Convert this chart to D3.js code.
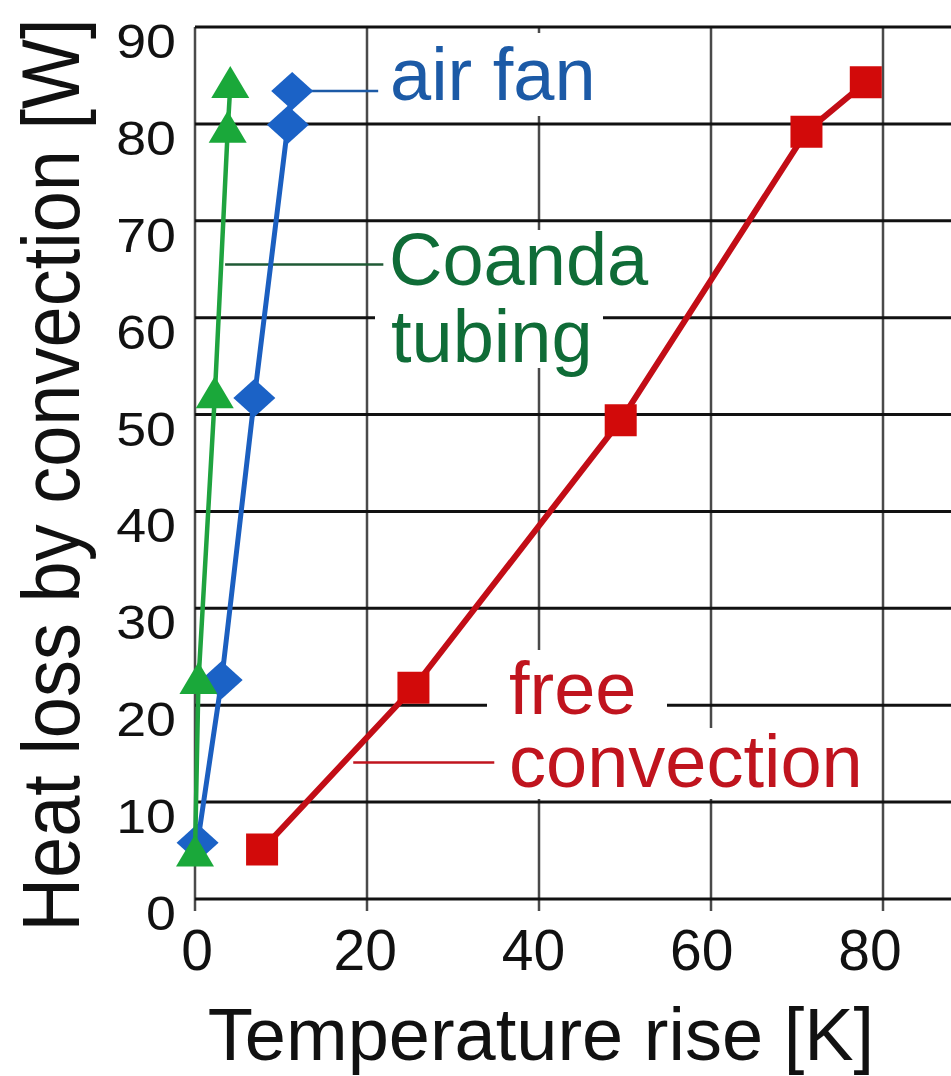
<!DOCTYPE html>
<html>
<head>
<meta charset="utf-8">
<script src="https://cdn.jsdelivr.net/npm/d3@7"></script>
<style>
  html, body { margin: 0; padding: 0; background: #fff; }
  svg { display: block; }
  text { font-family: "Liberation Sans", Arial, sans-serif; }
</style>
</head>
<body>
<svg id="chart" width="951" height="1076"></svg>
<script>
// ---- data ----
const xTicks = [0, 20, 40, 60, 80];
const yTicks = [0, 10, 20, 30, 40, 50, 60, 70, 80, 90];

const coandaX = [0, 0.4, 2.3, 3.8, 4.1];
const coandaY = [4.6, 22.4, 51.9, 79.3, 83.9];

const fanX = [0.3, 3.1, 6.9, 10.8, 11.3];
const fanY = [5.8, 22.6, 51.7, 79.9, 83.4];

const freeX = [7.8, 25.4, 49.5, 71.1, 78.0];
const freeY = [5.1, 21.8, 49.4, 79.2, 84.3];

const xTitle = "Temperature rise [K]";
const yTitle = "Heat loss by convection [W]";

// ---- layout ----
const W = 951, H = 1076;
const svg = d3.select("#chart");
const x = d3.scaleLinear().domain([0, 80]).range([195, 883]);
const y = d3.scaleLinear().domain([0, 90]).range([899, 27]);
const xLabel = d3.scaleLinear().domain([0, 80]).range([197, 870]);

const grid = svg.append("g");
// vertical gridlines (grey)
grid.selectAll("line.v").data(xTicks).join("line")
  .attr("x1", d => x(d)).attr("x2", d => x(d))
  .attr("y1", y(90)).attr("y2", y(0) + 12)
  .attr("stroke", "#4a4a4a").attr("stroke-width", 2.5);
// horizontal gridlines (black)
grid.selectAll("line.h").data(yTicks).join("line")
  .attr("x1", x(0)).attr("x2", W)
  .attr("y1", d => y(d)).attr("y2", d => y(d))
  .attr("stroke", "#111").attr("stroke-width", 3);

// white boxes behind annotation text
const boxes = [
  [380, 33, 600, 116],
  [375, 230, 655, 292],
  [375, 292, 603, 368],
  [487, 650, 667, 728],
  [497, 728, 876, 799]
];
svg.append("g").selectAll("rect").data(boxes).join("rect")
  .attr("x", d => d[0]).attr("y", d => d[1])
  .attr("width", d => d[2] - d[0]).attr("height", d => d[3] - d[1])
  .attr("fill", "#fff");

// leader lines
const leaders = [
  {x1: 12.2, x2: 21.3, y: 83.4, c: "#1c5aa6", w: 2.5},
  {x1: 3.5, x2: 21.9, y: 65.5, c: "#1f5a35", w: 2.5},
  {x1: 18.4, x2: 34.8, y: 14.1, c: "#c0141e", w: 2.5}
];
svg.append("g").selectAll("line").data(leaders).join("line")
  .attr("x1", d => x(d.x1)).attr("x2", d => x(d.x2))
  .attr("y1", d => y(d.y)).attr("y2", d => y(d.y))
  .attr("stroke", d => d.c).attr("stroke-width", d => d.w);

// annotation texts
const notes = [
  {t: "air fan", x: 390, y: 100, c: "#1c5aa6"},
  {t: "Coanda", x: 389, y: 285, c: "#0f6c37"},
  {t: "tubing", x: 391, y: 362, c: "#0f6c37"},
  {t: "free", x: 509, y: 714, c: "#c0141e"},
  {t: "convection", x: 509, y: 787, c: "#c0141e"}
];
svg.append("g").selectAll("text").data(notes).join("text")
  .attr("x", d => d.x).attr("y", d => d.y)
  .attr("fill", d => d.c).attr("font-size", 74)
  .text(d => d.t);

// ---- series ----
const line = d3.line().x(d => x(d[0])).y(d => y(d[1]));
const zip = (a, b) => a.map((v, i) => [v, b[i]]);

function drawSeries(pts, color, lineColor, lw, shape) {
  const g = svg.append("g");
  g.append("path").datum(pts).attr("d", line)
    .attr("fill", "none").attr("stroke", lineColor)
    .attr("stroke-width", lw).attr("stroke-linejoin", "round");
  g.selectAll("path.m").data(pts).join("path")
    .attr("class", "m")
    .attr("transform", d => `translate(${x(d[0])},${y(d[1])})`)
    .attr("d", shape)
    .attr("fill", color);
}
const diamond = "M0,-19L21,0L0,19L-21,0Z";
const triangle = "M0,-20L19,12L-19,12Z";
const square = "M-16,-16H16V16H-16Z";

drawSeries(zip(freeX, freeY), "#d20a0a", "#c20d16", 6, square);
drawSeries(zip(fanX, fanY), "#1b62c6", "#1b5fc0", 5, diamond);
drawSeries(zip(coandaX, coandaY), "#1aa83a", "#1fa33f", 4.5, triangle);

// ---- tick labels ----
svg.append("g").selectAll("text").data(xTicks).join("text")
  .attr("x", d => xLabel(d)).attr("y", 970)
  .attr("text-anchor", "middle").attr("font-size", 57).attr("fill", "#111")
  .text(d => d);

svg.append("g").selectAll("text").data(yTicks).join("text")
  .attr("transform", d => `translate(176,${y(d) + 31}) scale(1.12,1)`)
  .attr("text-anchor", "end").attr("font-size", 48).attr("fill", "#111")
  .text(d => d);

// ---- axis titles ----
svg.append("text")
  .attr("x", 541).attr("y", 1060)
  .attr("text-anchor", "middle").attr("font-size", 74).attr("fill", "#111")
  .text(xTitle);

svg.append("text")
  .attr("transform", "translate(79,475) scale(1.09,1) rotate(-90)")
  .attr("text-anchor", "middle").attr("font-size", 74).attr("fill", "#111")
  .text(yTitle);
</script>
</body>
</html>
